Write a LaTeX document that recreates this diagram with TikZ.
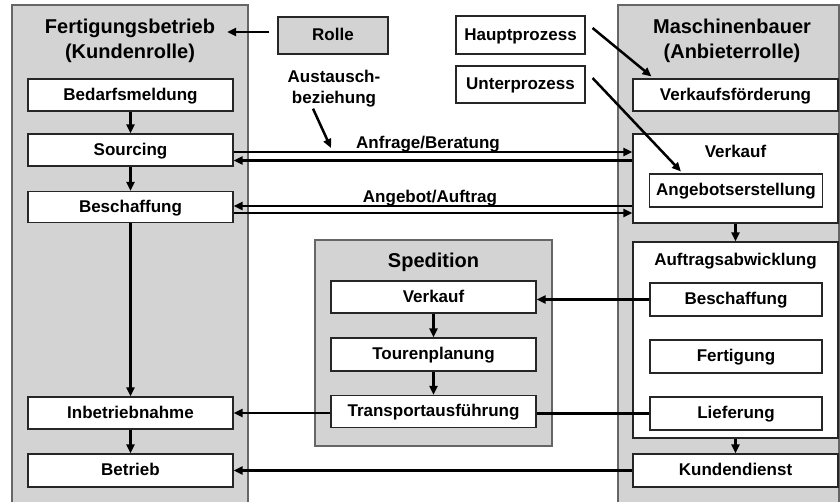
\documentclass[tikz,border=0pt]{standalone}
\usepackage{fontspec}
\setmainfont{Liberation Sans}
\usetikzlibrary{arrows.meta,calc}
\definecolor{panelgray}{RGB}{211,211,211}
\begin{document}
\begin{tikzpicture}[x=1pt,y=-1pt,
  panel/.style={draw=black!60,fill=panelgray,line width=1.3pt,inner sep=0pt},
  procbox/.style={draw=black!85,fill=white,line width=1.1pt,inner sep=0pt,
    text height=12.5pt,text depth=2.5pt,
    font=\bfseries\fontsize{17}{20}\selectfont},
  rolebox/.style={procbox,fill=panelgray},
  titletext/.style={font=\bfseries\fontsize{20}{24}\selectfont,inner sep=0pt},
  labeltext/.style={font=\bfseries\fontsize{17}{20}\selectfont,inner sep=0pt},
  arr/.style={line width=2.5pt,-{Triangle[length=9pt,width=8pt]}},
  plainline/.style={line width=2.5pt}]
\useasboundingbox (0,0) rectangle (840,501);
\clip (0,0) rectangle (840,501);

% role panels
\node[panel,minimum width=236pt,minimum height=505pt] (kunde) at (130,257.5) {};
\node[panel,minimum width=221pt,minimum height=505pt] (anbieter) at (728.5,257.5) {};
\node[panel,minimum width=237pt,minimum height=206pt] (sped) at (433.5,343) {};

% panel titles
\node[titletext,anchor=base] (kt1) at (130,33) {Fertigungsbetrieb};
\node[titletext,anchor=base] (kt2) at (130,58) {(Kundenrolle)};
\node[titletext,anchor=base] (at1) at (732,33) {Maschinenbauer};
\node[titletext,anchor=base] (at2) at (732,58) {(Anbieterrolle)};
\node[titletext,anchor=base] (st) at (433.5,267) {Spedition};

% legend
\node[rolebox,minimum width=110pt,minimum height=37pt] (rolle) at (333,35.5) {Rolle};
\node[procbox,minimum width=129pt,minimum height=38pt] (haupt) at (520.5,35) {Hauptprozess};
\node[procbox,minimum width=129pt,minimum height=37pt] (unter) at (520.5,84.5) {Unterprozess};
\node[labeltext,align=center] (aus) at (334,89) {Austausch-\\[1pt]beziehung};

% customer side
\node[procbox,minimum width=205pt,minimum height=32pt] (bed) at (130.5,95) {Bedarfsmeldung};
\node[procbox,minimum width=205pt,minimum height=32pt] (src) at (130.5,150) {Sourcing};
\node[procbox,minimum width=205pt,minimum height=31pt] (besL) at (130.5,207) {Beschaffung};
\node[procbox,minimum width=205pt,minimum height=32pt] (inb) at (130.5,413) {Inbetriebnahme};
\node[procbox,minimum width=205pt,minimum height=33pt] (btr) at (130.5,470.5) {Betrieb};

% supplier side
\node[procbox,minimum width=205pt,minimum height=32pt] (vf) at (735.5,95) {Verkaufsförderung};
\node[procbox,minimum width=205pt,minimum height=89pt] (vk) at (735.5,178.5) {};
\node[labeltext,anchor=base] (vkt) at (735.5,157) {Verkauf};
\node[procbox,minimum width=173pt,minimum height=33pt] (ang) at (736,190.5) {Angebotserstellung};
\node[procbox,minimum width=205pt,minimum height=196pt] (aa) at (735.5,340) {};
\node[labeltext,anchor=base] (aat) at (735.5,265) {Auftragsabwicklung};
\node[procbox,minimum width=172pt,minimum height=33pt] (besR) at (736,299.5) {Beschaffung};
\node[procbox,minimum width=172pt,minimum height=33pt] (fert) at (736,356.5) {Fertigung};
\node[procbox,minimum width=172pt,minimum height=33pt] (lief) at (736,413.5) {Lieferung};
\node[procbox,minimum width=205pt,minimum height=33pt] (kd) at (735.5,470.5) {Kundendienst};

% forwarder
\node[procbox,minimum width=205pt,minimum height=32pt] (sv) at (433.5,297) {Verkauf};
\node[procbox,minimum width=205pt,minimum height=33pt] (tp) at (433.5,354.5) {Tourenplanung};
\node[procbox,minimum width=205pt,minimum height=32pt] (tr) at (433.5,411.5) {Transportausführung};

% legend connectors
\draw[arr] ([shift={(-8,-3.5)}]rolle.west) -- ([shift={(12,-3.5)}]rolle.west -| kt1.east);
\draw[arr] ([shift={(7,-7)}]haupt.east) -- ([shift={(19,-2)}]vf.north west);
\draw[arr] ([shift={(7,-6.5)}]unter.east) -- ([shift={(32,-2)}]ang.north west);
\coordinate (austip) at (331,148);
\draw[arr] ([shift={(-21,1)}]aus.south) -- (austip);

% process flow inside the roles
\draw[arr] (bed.south) -- (src.north);
\draw[arr] (src.south) -- (besL.north);
\draw[arr] (besL.south) -- (inb.north);
\draw[arr] (inb.south) -- (btr.north);
\draw[arr] (vk.south) -- (aa.north);
\draw[arr] (aa.south) -- (kd.north);
\draw[arr] (sv.south) -- (tp.north);
\draw[arr] (tp.south) -- (tr.north);

% exchanges between the roles
\draw[arr] ([shift={(0,2)}]src.east) -- ([shift={(0,2)}]src.east -| vk.west);
\draw[arr] ([shift={(0,10.5)}]src.east -| vk.west) -- ([shift={(0,10.5)}]src.east);
\node[labeltext,anchor=base] (anf) at (428,148) {Anfrage/Beratung};
\draw[arr] ([shift={(0,-1)}]besL.east -| vk.west) -- ([shift={(0,-1)}]besL.east);
\draw[arr] ([shift={(0,6)}]besL.east) -- ([shift={(0,6)}]besL.east -| vk.west);
\node[labeltext,anchor=base] (ang2) at (430,202) {Angebot/Auftrag};
\draw[arr] (besR.west) -- (besR.west -| sv.east);
\draw[plainline] (lief.west) -- (lief.west -| tr.east);
\draw[arr] (inb.east -| tr.west) -- (inb.east);
\draw[arr] (kd.west) -- (kd.west -| btr.east);
\end{tikzpicture}
\end{document}
